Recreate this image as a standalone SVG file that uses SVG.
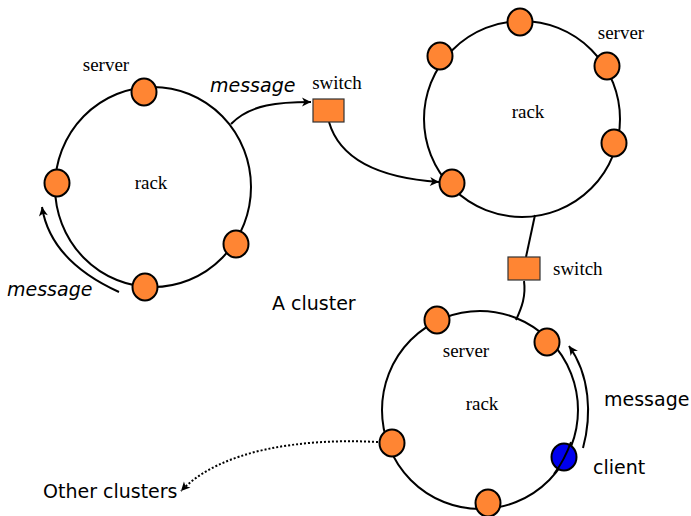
<svg xmlns="http://www.w3.org/2000/svg" width="691" height="516" viewBox="0 0 691 516">
  <defs>
    <marker id="head" viewBox="-10 -6 12 12" markerWidth="12" markerHeight="12" refX="0" refY="0" orient="auto" markerUnits="userSpaceOnUse">
      <path d="M0,0 L-9,-4.5 L-6.5,0 L-9,4.5 Z" fill="#000"/>
    </marker>
  </defs>
  <style>
    .ring { fill: none; stroke: #000; stroke-width: 2; }
    .srv { fill: #ff8533; stroke: #000; stroke-width: 2; }
    .cli { fill: #0000ee; stroke: #000; stroke-width: 2; }
    .sw { fill: #ff8533; stroke: #333; stroke-width: 1.2; }
    .link { fill: none; stroke: #000; stroke-width: 2; }
    .dot { fill: none; stroke: #000; stroke-width: 2; stroke-dasharray: 2 2; }
    .serif { font-family: "Liberation Serif", "Times New Roman", serif; font-size: 19px; fill: #000; }
    .sans { font-family: "DejaVu Sans", "Liberation Sans", sans-serif; font-size: 19px; fill: #000; }
    .it { font-style: italic; }
  </style>

  <!-- connectors -->
  <g id="connectors">
    <path class="link" d="M231,124 C250,104 280,102 311,102" marker-end="url(#head)"/>
    <path class="link" d="M329,122 C340,160 380,178 439,182" marker-end="url(#head)"/>
    <path class="link" d="M535,215 L526,257"/>
    <path class="link" d="M524,281 C526,296 522,307 516,320"/>
    <path class="link" d="M119,292 C75,272 48,245 42,207" marker-end="url(#head)"/>
    <path class="link" d="M583,448 C592,415 590,375 569,346" marker-end="url(#head)"/>
    <path class="dot" d="M378,442 C300,438 220,450 181,491" marker-end="url(#head)"/>
  </g>

  <!-- rack 1 -->
  <g id="rack1">
    <ellipse class="ring" cx="153" cy="187" rx="98" ry="100"/>
    <text class="serif" x="151" y="189" text-anchor="middle">rack</text>
    <text class="serif" x="106" y="71" text-anchor="middle">server</text>
    <ellipse class="srv" cx="144" cy="92" rx="12.5" ry="13.5"/>
    <ellipse class="srv" cx="57" cy="183" rx="12.5" ry="13.5"/>
    <ellipse class="srv" cx="236" cy="244" rx="12.5" ry="13.5"/>
    <ellipse class="srv" cx="145" cy="287" rx="12.5" ry="13.5"/>
  </g>

  <!-- rack 2 -->
  <g id="rack2">
    <ellipse class="ring" cx="522" cy="119" rx="98" ry="98"/>
    <text class="serif" x="528" y="118" text-anchor="middle">rack</text>
    <text class="serif" x="621" y="39" text-anchor="middle">server</text>
    <ellipse class="srv" cx="520" cy="22" rx="12.5" ry="13.5"/>
    <ellipse class="srv" cx="440" cy="56" rx="12.5" ry="13.5"/>
    <ellipse class="srv" cx="607" cy="66" rx="12.5" ry="13.5"/>
    <ellipse class="srv" cx="614" cy="143" rx="12.5" ry="13.5"/>
    <ellipse class="srv" cx="452" cy="183" rx="12.5" ry="13.5"/>
  </g>

  <!-- rack 3 -->
  <g id="rack3">
    <ellipse class="ring" cx="480" cy="410" rx="98" ry="99"/>
    <text class="serif" x="482" y="410" text-anchor="middle">rack</text>
    <text class="serif" x="466" y="357" text-anchor="middle">server</text>
    <ellipse class="srv" cx="437" cy="320" rx="12.5" ry="13.5"/>
    <ellipse class="srv" cx="547" cy="342" rx="12.5" ry="13.5"/>
    <ellipse class="srv" cx="392" cy="443" rx="12.5" ry="13.5"/>
    <ellipse class="srv" cx="488" cy="503" rx="12.5" ry="13.5"/>
    <ellipse class="cli" cx="564" cy="457" rx="12.5" ry="13.5"/>
    <path class="link" d="M571,442 C566,456 560,466 554,474"/>
  </g>

  <!-- switches -->
  <g id="switch1">
    <rect class="sw" x="313" y="99" width="31" height="23"/>
    <text class="serif" x="337" y="89" text-anchor="middle">switch</text>
  </g>
  <g id="switch2">
    <rect class="sw" x="508" y="257" width="32" height="23"/>
    <text class="serif" x="553" y="275">switch</text>
  </g>

  <!-- labels -->
  <g id="labels">
    <text class="sans it" x="210" y="92">message</text>
    <text class="sans it" x="7" y="296">message</text>
    <text class="sans" x="272" y="310">A cluster</text>
    <text class="sans" x="604" y="406">message</text>
    <text class="sans" x="593" y="474">client</text>
    <text class="sans" x="43" y="498">Other clusters</text>
  </g>
</svg>
